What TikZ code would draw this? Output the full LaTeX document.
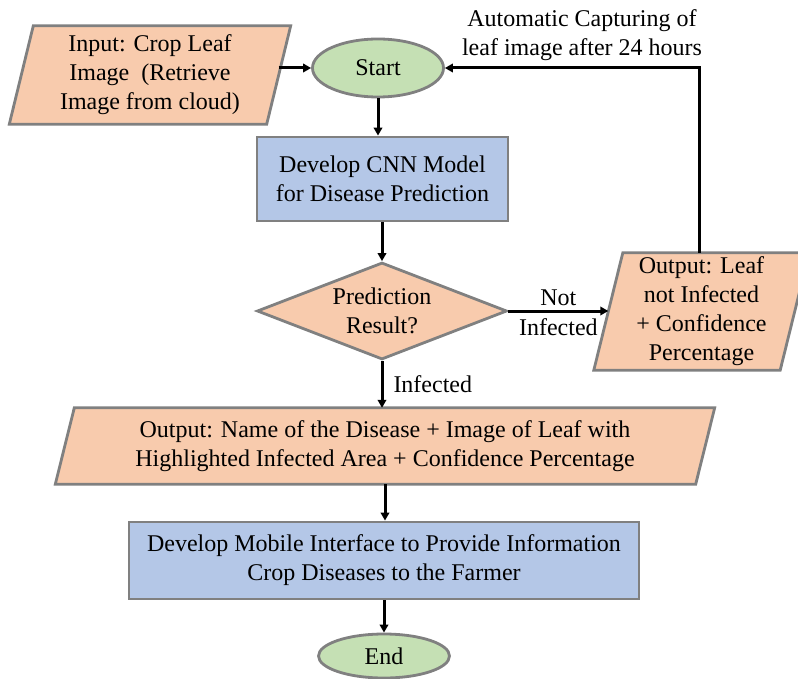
\documentclass[tikz,border=0pt]{standalone}
\usepackage{fontspec}
\setmainfont{Liberation Serif}
\usetikzlibrary{arrows.meta,shapes.geometric,backgrounds}
\definecolor{peach}{RGB}{248,203,173}
\definecolor{lblue}{RGB}{180,199,231}
\definecolor{lgreen}{RGB}{197,224,180}
\definecolor{bord}{RGB}{128,128,128}
\tikzset{
 txt/.style={font=\fontsize{24}{29}\selectfont, align=center, inner sep=0pt},
 term/.style={txt, ellipse, draw=bord, fill=lgreen, line width=2.8pt},
 proc/.style={txt, rectangle, draw=bord, fill=lblue, line width=2.8pt},
 dec/.style={txt, diamond, draw=bord, fill=peach, line width=2.8pt, aspect=2.5},
 io/.style={txt, rectangle},
 iofill/.style={draw=bord, fill=peach, line width=2.8pt, line join=miter},
 arr/.style={-{Triangle[length=8pt,width=8.5pt]}, line width=3pt, black},
 lbl/.style={font=\fontsize{24}{29}\selectfont, align=center, inner sep=0pt}
}
\begin{document}
\begin{tikzpicture}[x=1pt,y=-1pt]
\useasboundingbox (0,0) rectangle (798,679);
\clip (0,0) rectangle (798,679);
% nodes
\node[term, minimum width=131, minimum height=58] (start) at (378,68) {Start};
\node[io, minimum width=257, minimum height=98] (in) at (150,75) {Input: Crop Leaf\\Image\ \ (Retrieve\\Image from cloud)};
\node[proc, minimum width=251, minimum height=84] (cnn) at (382.5,179) {Develop CNN Model\\for Disease Prediction};
\node[dec, minimum width=250, minimum height=97] (pred) at (382,311) {Prediction\\Result?};
\node[io, minimum width=186, minimum height=117] (nout) at (701.5,311.5) {Output: Leaf\\not Infected\\+ Confidence\\Percentage};
\node[io, minimum width=640, minimum height=76] (out) at (385,446) {Output: Name of the Disease + Image of Leaf with\\Highlighted Infected Area + Confidence Percentage};
\node[proc, minimum width=510, minimum height=77] (mob) at (384,560.5) {Develop Mobile Interface to Provide Information\\Crop Diseases to the Farmer};
\node[term, minimum width=131, minimum height=44] (end) at (384,656) {End};
\node[lbl] (auto) at (582,35.5) {Automatic Capturing of\\leaf image after 24 hours};
\coordinate (lp) at (699,68);
% parallelogram outlines
\begin{scope}[on background layer]
\draw[iofill] ([xshift=12]in.north west) -- ([xshift=12]in.north east) -- ([xshift=-12]in.south east) -- ([xshift=-12]in.south west) -- cycle;
\draw[iofill] ([xshift=14.5]nout.north west) -- ([xshift=14.5]nout.north east) -- ([xshift=-14.5]nout.south east) -- ([xshift=-14.5]nout.south west) -- cycle;
\draw[iofill] ([xshift=9.5]out.north west) -- ([xshift=9.5]out.north east) -- ([xshift=-9.5]out.south east) -- ([xshift=-9.5]out.south west) -- cycle;
\end{scope}
% connectors
\draw[arr] (in.east |- start) -- (start.west);
\draw[arr] (start.south) -- (start.south |- cnn.north);
\draw[arr] (cnn.south -| pred.north) -- (pred.north);
\draw[arr] (pred.south) -- (pred.south |- out.north) node[lbl, midway, anchor=west, xshift=10pt] (linf) {Infected};
\draw[arr] (pred.east) -- (nout.west |- pred.east) node[lbl, midway, above=4pt] (lnot) {Not} node[lbl, midway, below=6pt] (lninf) {Infected};
\draw[arr] (nout.north -| lp) -- (lp) -- (start.east);
\draw[arr] (out.south) -- (out.south |- mob.north);
\draw[arr] (mob.south) -- (end.north);
\end{tikzpicture}
\end{document}
